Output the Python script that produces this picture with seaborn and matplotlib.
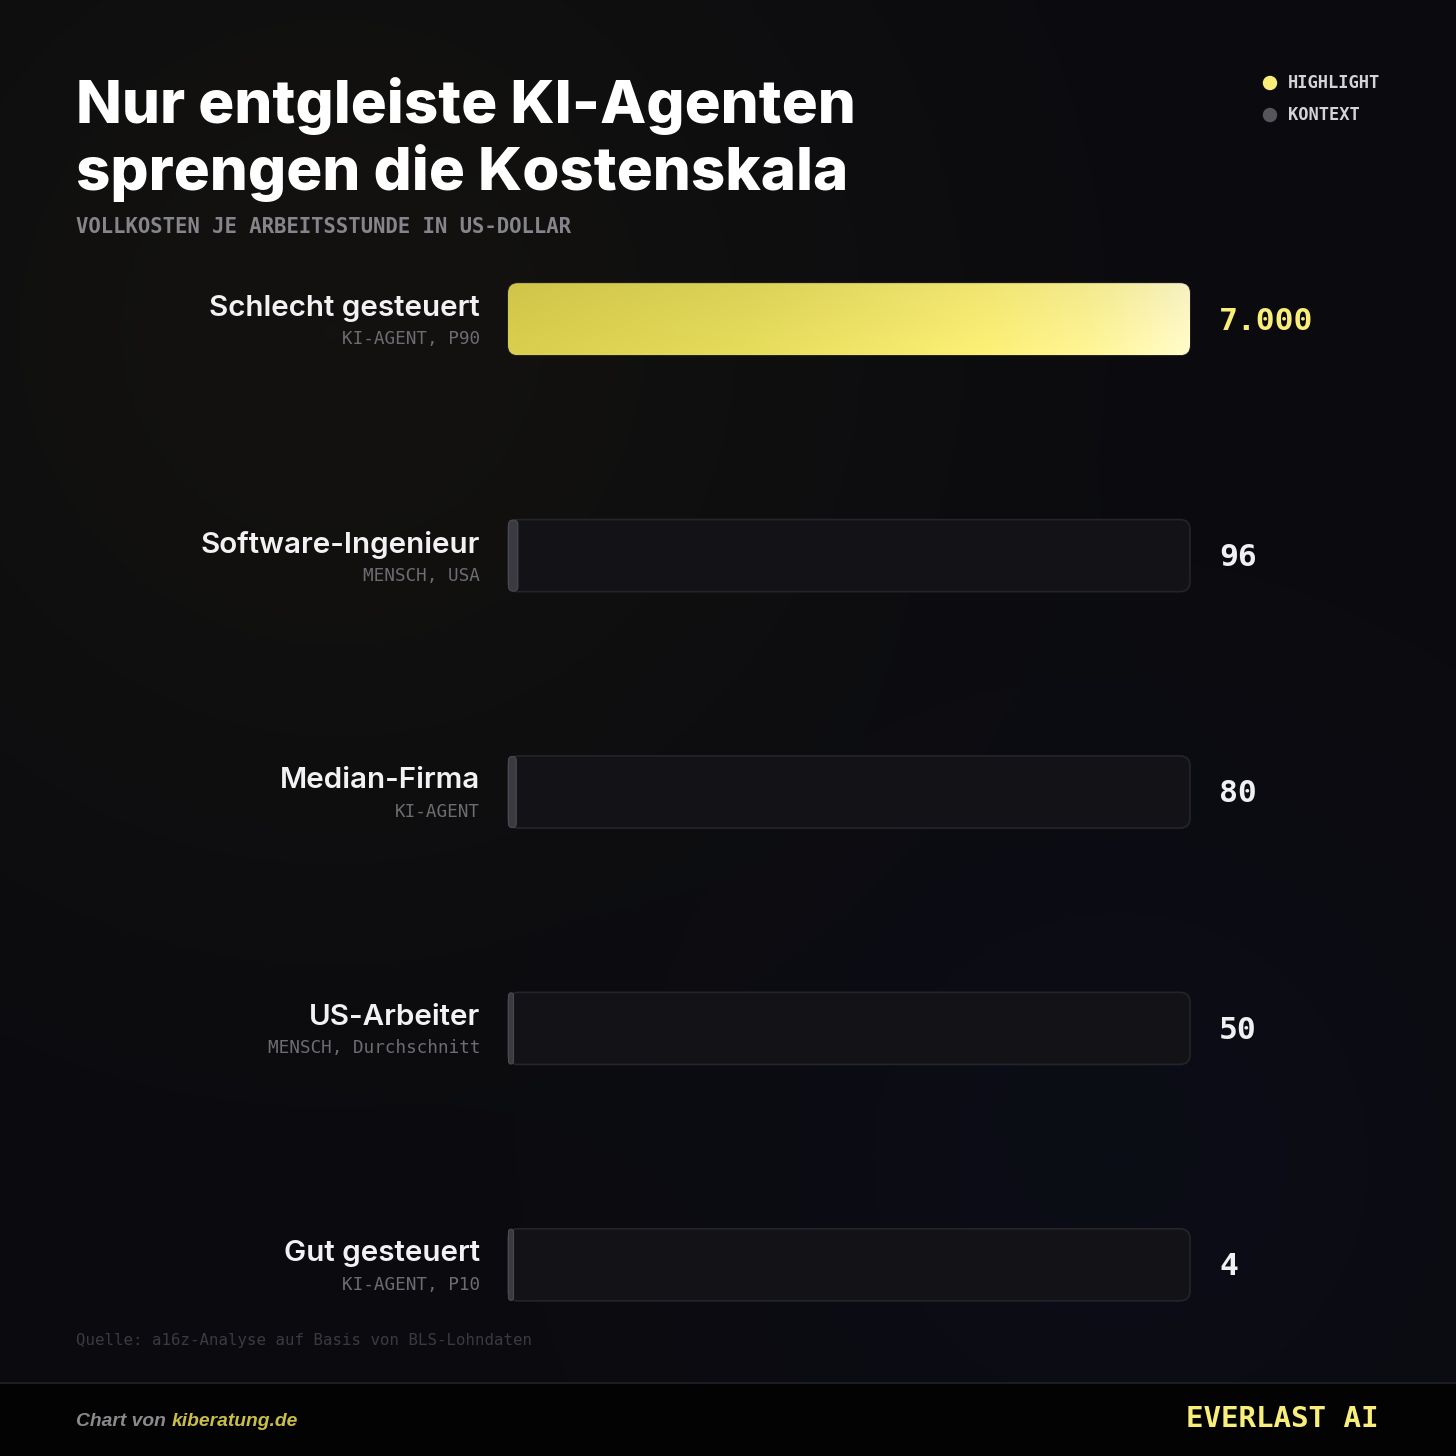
import numpy as np
import pandas as pd
import matplotlib
matplotlib.use("Agg")
import matplotlib.pyplot as plt
import seaborn as sns
from matplotlib.patches import FancyBboxPatch, Circle, Rectangle
from matplotlib.transforms import IdentityTransform
from matplotlib.colors import LinearSegmentedColormap

# ---------------- data ----------------
categories = ["Schlecht gesteuert", "Software-Ingenieur", "Median-Firma", "US-Arbeiter", "Gut gesteuert"]
sublabels = ["KI-AGENT, P90", "MENSCH, USA", "KI-AGENT", "MENSCH, Durchschnitt", "KI-AGENT, P10"]
values = [7000, 96, 80, 50, 4]
value_labels = ["7.000", "96", "80", "50", "4"]
highlight = [True, False, False, False, False]
legend_labels = ["HIGHLIGHT", "KONTEXT"]

title_lines = ["Nur entgleiste KI-Agenten", "sprengen die Kostenskala"]
subtitle = "VOLLKOSTEN JE ARBEITSSTUNDE IN US-DOLLAR"
source = "Quelle: a16z-Analyse auf Basis von BLS-Lohndaten"

# ---------------- style ----------------
W = H = 1456
DPI = 100
BG = "#0b0b0f"
YELLOW = "#f9ee7a"
TRACK = "#131317"
TRACK_EDGE = "#24242a"
GREY_BAR = "#3a3a40"
MONO = ["DejaVu Sans Mono"]
SANS = ["Inter", "DejaVu Sans"]

sns.set_theme(style="dark")
plt.rcParams["font.family"] = SANS

fig = plt.figure(figsize=(W / DPI, H / DPI), dpi=DPI)
fig.patch.set_facecolor(BG)

def fx(x):
    return x / W

def fy(y):
    return 1 - y / H

# background glow
bg_ax = fig.add_axes([0, 0, 1, 1], zorder=-10)
bg_ax.set_axis_off()
yy, xx = np.mgrid[0:H:4, 0:W:4]
base = np.array([11, 11, 15], float) / 255
warm = np.exp(-(((xx - 330) ** 2 + (yy - 330) ** 2) / (2 * 380 ** 2)))[..., None] * np.array([8, 7, 1]) / 255
cool = np.exp(-(((xx - 1120) ** 2 + (yy - 1160) ** 2) / (2 * 300 ** 2)))[..., None] * np.array([0, 2, 7]) / 255
img = np.clip(base + warm + cool, 0, 1)
bg_ax.imshow(img, extent=[0, W, H, 0], aspect="auto", interpolation="bilinear")
bg_ax.set_xlim(0, W)
bg_ax.set_ylim(H, 0)
# footer band
bg_ax.add_patch(Rectangle((0, 1383), W, 73, color="#030303", zorder=2))
bg_ax.plot([0, W], [1383, 1383], color="#1c1c24", lw=1.5, zorder=3)

# main axes
ax = fig.add_axes([fx(508), fy(1383), fx(1190) - fx(508), (1383 - 201) / H])
df = pd.DataFrame({"category": categories, "value": values})
sns.barplot(data=df, x="value", y="category", orient="h", ax=ax, width=0.305,
            color=GREY_BAR, saturation=1)
XLIM = (0, max(values))
YLIM = (len(categories) - 0.5, -0.5)
ax.set_xlim(*XLIM)
ax.set_ylim(*YLIM)
ax.set_facecolor((0, 0, 0, 0))
ax.set_axis_off()

trans = ax.transData
R = 10
grad_cmap = LinearSegmentedColormap.from_list(
    "hl", [(0, "#d6cb4b"), (0.35, "#e2d85a"), (0.70, "#f8ec74"), (0.86, "#fbf194"), (1.0, "#fdf8c6")])

bars = list(ax.patches)
geo = []
for p in bars:
    p.set_visible(False)
    geo.append((p.get_x(), p.get_width(), p.get_y(), p.get_height()))

for i, (xd, wd, y0d, hd) in enumerate(geo):
    # track (full scale width)
    (tx0, ty0) = trans.transform((XLIM[0], y0d + hd))
    (tx1, ty1) = trans.transform((XLIM[1], y0d))
    track = FancyBboxPatch((tx0, ty0), tx1 - tx0, ty1 - ty0,
                           boxstyle=f"round,pad=0,rounding_size={R}",
                           transform=IdentityTransform(), facecolor=TRACK,
                           edgecolor=TRACK_EDGE, lw=1.2, zorder=1, clip_on=False)
    ax.add_artist(track)
    # value bar
    (bx0, by0) = trans.transform((xd, y0d + hd))
    (bx1, by1) = trans.transform((xd + wd, y0d))
    bw = max(bx1 - bx0, 5)
    if highlight[i]:
        bar = FancyBboxPatch((bx0, by0), bw, by1 - by0,
                             boxstyle=f"round,pad=0,rounding_size={R}",
                             transform=IdentityTransform(), facecolor="none",
                             edgecolor="none", zorder=2, clip_on=False)
        ax.add_artist(bar)
        gx = np.linspace(0, 1, 512)
        gy = np.linspace(0, 1, 32)
        G = grad_cmap(gx)[None, :, :3].repeat(32, axis=0)
        shade = (0.97 + 0.05 * gy)[:, None, None]
        G = np.clip(G * shade, 0, 1)
        im = ax.imshow(G, extent=[xd, xd + wd, y0d + hd, y0d],
                       aspect="auto", zorder=3, interpolation="bilinear")
        im.set_clip_path(bar)
    else:
        bar = FancyBboxPatch((bx0 + 0.5, by0 + 0.5), bw, by1 - by0 - 1,
                             boxstyle=f"round,pad=0,rounding_size={min(R, bw / 2)}",
                             transform=IdentityTransform(), facecolor=GREY_BAR,
                             edgecolor="#4a4a52", lw=0.8, zorder=3, clip_on=False)
        ax.add_artist(bar)

ax.set_xlim(*XLIM)
ax.set_ylim(*YLIM)

for i, (xd, wd, y0d, hd) in enumerate(geo):
    yc = y0d + hd / 2
    # category labels
    ax.annotate(categories[i], xy=(0, yc), xytext=(-28, 11), textcoords="offset pixels",
                ha="right", va="center", color="#f2f2f4", fontsize=21.3,
                fontweight="semibold", family=SANS, annotation_clip=False)
    ax.annotate(sublabels[i], xy=(0, yc), xytext=(-28, -20), textcoords="offset pixels",
                ha="right", va="center", color="#6c6c72", fontsize=12.7,
                family=MONO, annotation_clip=False)
    # value labels
    ax.annotate(value_labels[i], xy=(XLIM[1], yc), xytext=(29, -2),
                textcoords="offset pixels", ha="left", va="center",
                color=YELLOW if highlight[i] else "#f0f0f2", fontsize=22.6,
                fontweight="bold", family=MONO, annotation_clip=False)

# title & subtitle
for k, line in enumerate(title_lines):
    fig.text(fx(76), fy(123 + 67 * k), line, ha="left", va="baseline", color="white",
             fontsize=43.2, fontweight="heavy", family=SANS)
fig.text(fx(76), fy(227), subtitle, ha="left", va="center", color="#85858b",
         fontsize=14.85, fontweight="bold", family=MONO)

# legend
leg_colors = [YELLOW, "#55555b"]
for k, (lab, c) in enumerate(zip(legend_labels, leg_colors)):
    y = 83 + 32 * k
    fig.add_artist(Circle((fx(1270), fy(y)), radius=6.5 / W, transform=fig.transFigure,
                          color=c, zorder=5))
    fig.text(fx(1288), fy(y), lab, ha="left", va="center", color="#d4d4d8",
             fontsize=12.3, fontweight="bold", family=MONO)

# source
fig.text(fx(76), fy(1340), source, ha="left", va="center", color="#3a3a42",
         fontsize=11.3, family=MONO)

# footer
t1 = fig.text(fx(76), fy(1421), "Chart von ", ha="left", va="center", color="#8a8a8e",
              fontsize=13.9, fontweight="bold", style="italic", family=["Liberation Sans"])
fig.canvas.draw()
bb = t1.get_window_extent()
fig.text(bb.x1 / W, fy(1421), "kiberatung.de", ha="left", va="center", color="#c9be47",
         fontsize=13.9, fontweight="bold", style="italic", family=["Liberation Sans"])
fig.text(fx(1379), fy(1419), "EVERLAST AI", ha="right", va="center", color=YELLOW,
         fontsize=21, fontweight="bold", family=MONO)

fig.savefig("out.png", dpi=DPI, facecolor=BG)
